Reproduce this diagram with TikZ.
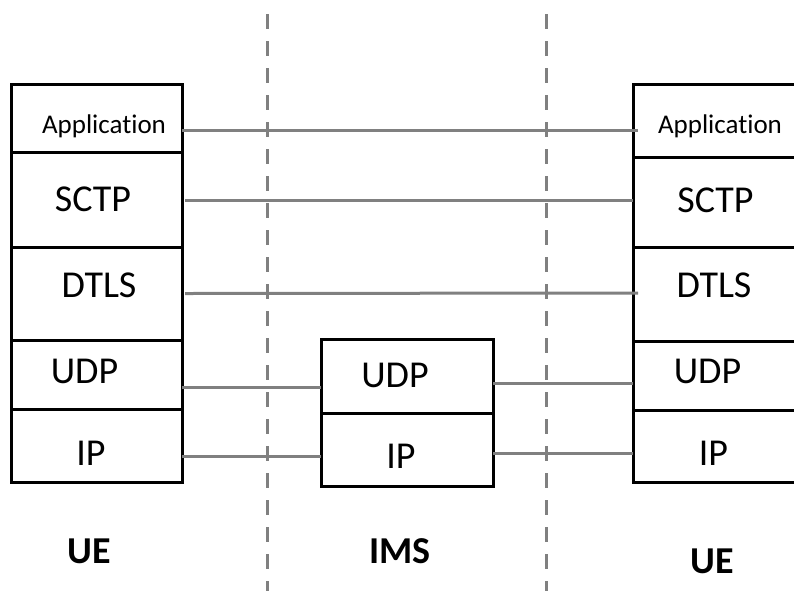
\documentclass[tikz,border=0pt]{standalone}
\usepackage{fontspec}
\setmainfont{Carlito}[Ligatures={NoCommon}]
\definecolor{linkgray}{HTML}{808080}
\definecolor{dashgray}{HTML}{808080}
\begin{document}
\begin{tikzpicture}[x=1pt,y=-1pt,
  layer/.style={draw=black,line width=3pt,inner sep=0pt,outer sep=0pt},
  lbl/.style={anchor=base,inner sep=0pt,font=\fontsize{38}{40}\selectfont},
  applbl/.style={anchor=base,inner sep=0pt,font=\fontsize{27}{30}\selectfont},
  side/.style={anchor=base,inner sep=0pt,font=\fontsize{38}{40}\selectfont\bfseries},
  link/.style={draw=linkgray,line width=3pt},
  divider/.style={draw=dashgray,line width=3pt,dash pattern=on 15pt off 12pt}]
\useasboundingbox (0,0) rectangle (794,590);
% dashed domain separators
\coordinate (d1top) at (267,14);
\coordinate (d1bot) at (267,595);
\coordinate (d2top) at (546,14);
\coordinate (d2bot) at (546,595);
\draw[divider] (d1top) -- (d1bot);
\draw[divider] (d2top) -- (d2bot);
% left stack
\node[layer,minimum width=171pt,minimum height=68pt] (lapp) at (96.5,118) {};
\node[layer,minimum width=171pt,minimum height=95pt] (lsctp) at (96.5,199.5) {};
\node[layer,minimum width=171pt,minimum height=93pt] (ldtls) at (96.5,293.5) {};
\node[layer,minimum width=171pt,minimum height=69pt] (ludp) at (96.5,374.5) {};
\node[layer,minimum width=171pt,minimum height=73pt] (lip) at (96.5,445.5) {};
% right stack
\node[layer,minimum width=167pt,minimum height=73pt] (rapp) at (716.5,120.5) {};
\node[layer,minimum width=167pt,minimum height=90pt] (rsctp) at (716.5,202) {};
\node[layer,minimum width=167pt,minimum height=94pt] (rdtls) at (716.5,294) {};
\node[layer,minimum width=167pt,minimum height=69pt] (rudp) at (716.5,375.5) {};
\node[layer,minimum width=167pt,minimum height=72pt] (rip) at (716.5,446) {};
% middle stack
\node[layer,minimum width=172pt,minimum height=74pt] (mudp) at (407,376) {};
\node[layer,minimum width=172pt,minimum height=73pt] (mip) at (407,449.5) {};
% labels
\node[applbl] (tlapp) at (104,133) {Application};
\node[lbl] (tlsctp) at (93,211) {SCTP};
\node[lbl] (tldtls) at (99,297) {DTLS};
\node[lbl] (tludp) at (84.5,383) {UDP};
\node[lbl] (tlip) at (91,465) {IP};
\node[applbl] (trapp) at (720,133) {Application};
\node[lbl] (trsctp) at (715.5,212) {SCTP};
\node[lbl] (trdtls) at (714,297) {DTLS};
\node[lbl] (trudp) at (707.5,383) {UDP};
\node[lbl] (trip) at (713.5,465) {IP};
\node[lbl] (tmudp) at (395,387) {UDP};
\node[lbl] (tmip) at (401,468) {IP};
\node[side] (ue1) at (89,563) {UE};
\node[side] (ims) at (400,563) {IMS};
\node[side] (ue2) at (712,573) {UE};
% peer links
\draw[link] ([yshift=-12pt]lapp.east) -- ([xshift=5pt,yshift=-9.5pt]rapp.west);
\draw[link] ([xshift=3pt,yshift=-0.5pt]lsctp.east) -- ([yshift=2pt]rsctp.west);
\draw[link] ([xshift=3pt]ldtls.east) -- ([xshift=5pt,yshift=1pt]rdtls.west);
\draw[link] ([yshift=-12.5pt]ludp.east) -- ([yshift=-11pt]mudp.west);
\draw[link] ([yshift=-10.5pt]lip.east) -- ([yshift=-6.5pt]mip.west);
\draw[link] ([yshift=-7pt]mudp.east) -- ([yshift=-7.5pt]rudp.west);
\draw[link] ([yshift=-3.5pt]mip.east) -- ([yshift=-7pt]rip.west);
\end{tikzpicture}
\end{document}
